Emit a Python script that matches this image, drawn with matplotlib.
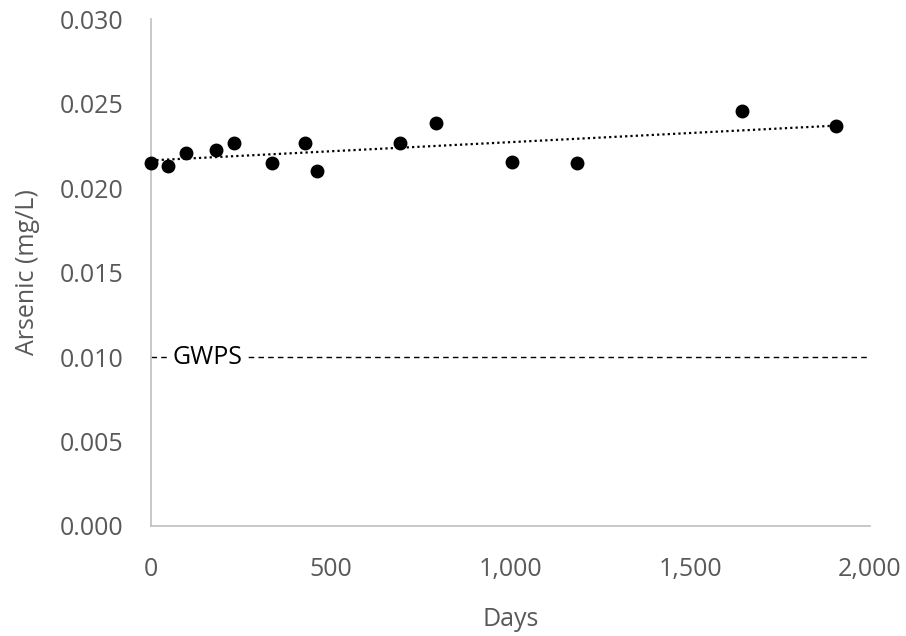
import numpy as np
import matplotlib
matplotlib.use("Agg")
import matplotlib.pyplot as plt

# arsenic results by day since first sample
days    = [0, 48, 97, 182, 230, 336, 428, 463, 693, 792, 1003, 1184, 1645, 1905]
arsenic = [0.02146, 0.02132, 0.02205, 0.02227, 0.02266, 0.02146, 0.02266,
           0.02102, 0.02266, 0.02385, 0.02156, 0.02146, 0.02454, 0.02367]
GWPS    = 0.010

GREY = "#595959"
plt.rcParams["font.family"] = ["Open Sans", "DejaVu Sans"]

fig = plt.figure(figsize=(9.06, 6.36), dpi=100)
ax = fig.add_axes([0.1667, 0.173, 0.7936, 0.797])

x = np.array(days, float)
y = np.array(arsenic, float)
m, b = np.polyfit(x, y, 1)
xt = np.array([x.min(), x.max()])
ax.plot(xt, m * xt + b, color="black", lw=1.6, ls=(0, (1, 1.4)), zorder=2)
ax.plot(x, y, "o", color="black", ms=9, zorder=3, clip_on=False)

ax.axhline(GWPS, color="black", lw=1, ls=(0, (4, 3)), zorder=1)
ax.text(158, GWPS, "GWPS", fontsize=18, color="black", ha="center", va="center",
        bbox=dict(facecolor="white", edgecolor="none", pad=3), zorder=2)

ax.set_xlim(0, 2000)
ax.set_ylim(0, 0.030)
ax.set_xticks([0, 500, 1000, 1500, 2000])
ax.set_xticklabels(["0", "500", "1,000", "1,500", "2,000"])
ax.set_yticks(np.arange(0, 0.0301, 0.005))
ax.set_yticklabels([f"{v:.3f}" for v in np.arange(0, 0.0301, 0.005)])
ax.tick_params(length=0, labelsize=18, labelcolor=GREY)
ax.tick_params(axis="y", pad=20)
ax.tick_params(axis="x", pad=22)

for s in ["top", "right"]:
    ax.spines[s].set_visible(False)
for s in ["left", "bottom"]:
    ax.spines[s].set_color("#BFBFBF")
    ax.spines[s].set_linewidth(1.2)

ax.set_xlabel("Days", fontsize=18, color=GREY, labelpad=18)
ax.set_ylabel("Arsenic (mg/L)", fontsize=18, color=GREY, labelpad=14)

fig.savefig("out.png", dpi=100)
